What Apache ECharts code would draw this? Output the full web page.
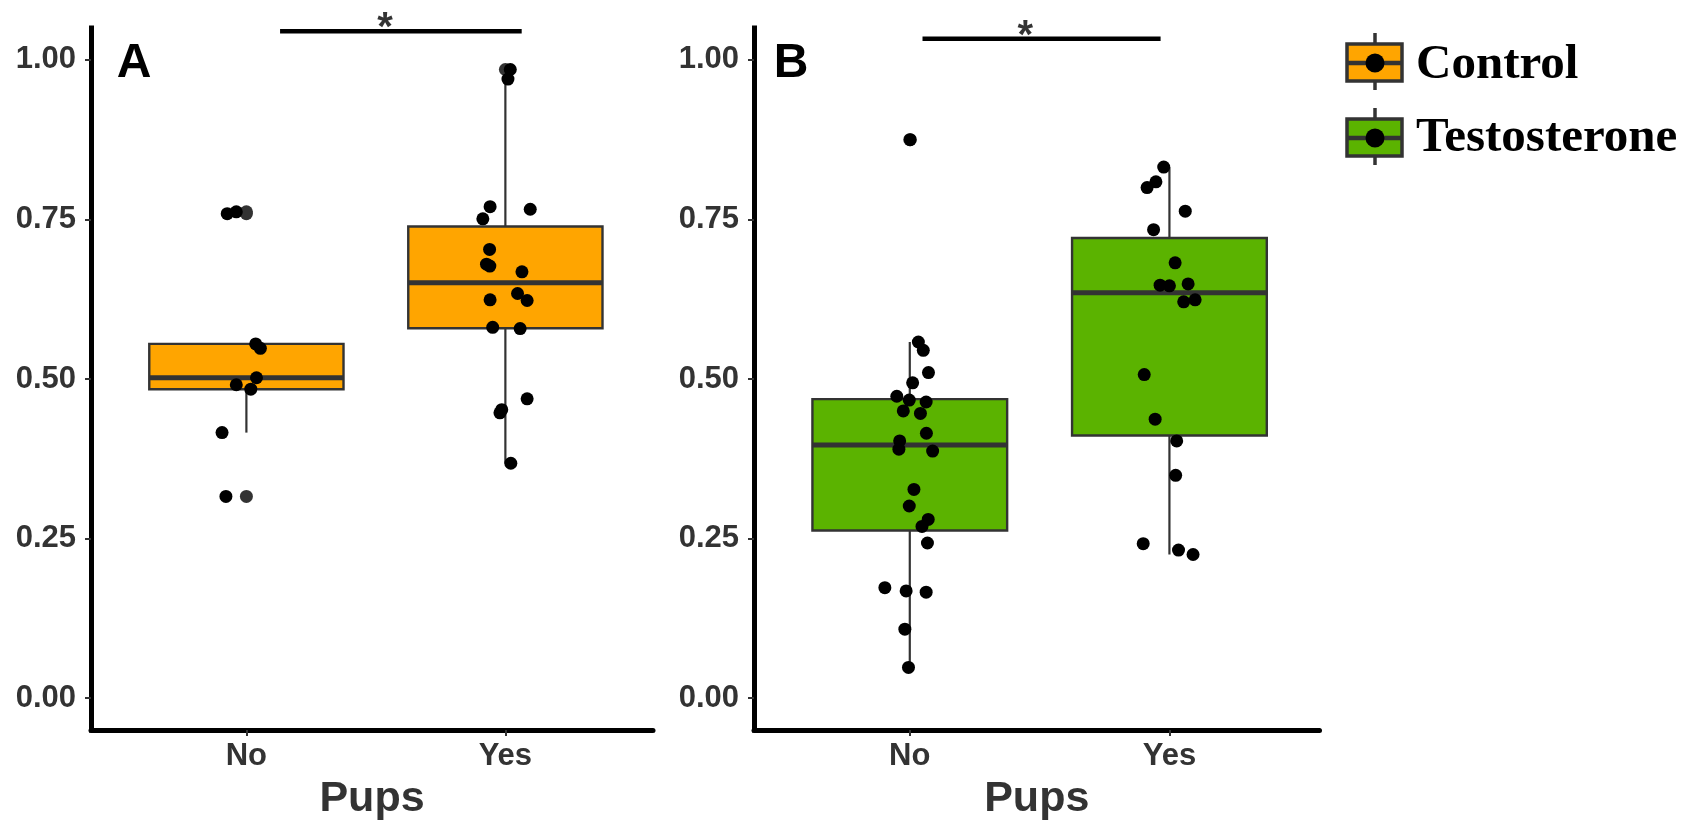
<!DOCTYPE html>
<html>
<head>
<meta charset="utf-8">
<script src="https://cdn.jsdelivr.net/npm/echarts@6/dist/echarts.min.js"></script>
<style>
  html, body { margin: 0; padding: 0; background: #ffffff; }
  #chart { width: 1696px; height: 820px; }
</style>
</head>
<body>
<div id="chart"></div>
<script>
// ---------------- DATA ----------------
const categories = ['No', 'Yes'];
const yTicks = [0, 0.25, 0.5, 0.75, 1];
const xLabel = 'Pups';
const panelLabels = ['A', 'B'];
const groupNames = ['Control', 'Testosterone'];

// Panel A (Control)
const controlNo = [0.759, 0.762, 0.555, 0.548, 0.502, 0.491, 0.484, 0.416, 0.316];
const controlNoJitter = [-0.074, -0.039, 0.036, 0.054, 0.039, -0.039, 0.017, -0.094, -0.079];
const controlYes = [0.985, 0.970, 0.770, 0.766, 0.751, 0.703, 0.680, 0.677, 0.668, 0.634, 0.623, 0.624, 0.581, 0.579, 0.469, 0.452, 0.447, 0.368];
const controlYesJitter = [0.019, 0.010, -0.059, 0.096, -0.087, -0.061, -0.073, -0.060, 0.064, 0.047, 0.084, -0.059, -0.049, 0.057, 0.084, -0.014, -0.021, 0.021];

// Panel B (Testosterone)
const testoNo = [0.875, 0.558, 0.545, 0.510, 0.494, 0.473, 0.467, 0.464, 0.450, 0.446, 0.415, 0.403, 0.390, 0.387, 0.327, 0.301, 0.280, 0.269, 0.243, 0.173, 0.168, 0.166, 0.108, 0.048];
const testoNoJitter = [0.002, 0.033, 0.052, 0.072, 0.011, -0.050, -0.002, 0.063, -0.025, 0.041, 0.064, -0.039, -0.042, 0.088, 0.016, -0.002, 0.071, 0.047, 0.068, -0.096, -0.014, 0.063, -0.019, -0.005];
const testoYes = [0.832, 0.809, 0.800, 0.763, 0.734, 0.682, 0.647, 0.646, 0.649, 0.621, 0.624, 0.507, 0.437, 0.403, 0.349, 0.242, 0.232, 0.225];
const testoYesJitter = [-0.022, -0.052, -0.086, 0.061, -0.061, 0.022, -0.036, 0.000, 0.072, 0.055, 0.099, -0.097, -0.055, 0.028, 0.024, -0.101, 0.035, 0.091];

// significance annotations (data units)
const sigBarA = [[0.13, 1.045], [1.063, 1.045]];
const sigBarB = [[0.049, 1.033], [0.966, 1.033]];
const sigStarA = [0.535, 1.045];
const sigStarB = [0.445, 1.033];
const sigText = '*';

// ---------------- STYLE ----------------
const ORANGE = '#FFA500';
const GREEN = '#5BB300';
const OUTLINE = '#333333';
const AXIS_TEXT = '#333333';
const SANS = "'Liberation Sans', Arial, Helvetica, sans-serif";
const SERIF = "'Liberation Serif', 'Times New Roman', serif";
const BOX_HALF = 0.375;

// type-7 quantile
function quantile(sorted, p) {
  const h = (sorted.length - 1) * p;
  const lo = Math.floor(h), hi = Math.ceil(h);
  return sorted[lo] + (h - lo) * (sorted[hi] - sorted[lo]);
}
function boxStats(vals) {
  const s = vals.slice().sort((a, b) => a - b);
  const q1 = quantile(s, 0.25), med = quantile(s, 0.5), q3 = quantile(s, 0.75);
  const iqr = q3 - q1;
  const lf = q1 - 1.5 * iqr, uf = q3 + 1.5 * iqr;
  const inside = s.filter(v => v >= lf && v <= uf);
  return {
    box: [inside[0], q1, med, q3, inside[inside.length - 1]],
    outliers: s.filter(v => v < lf || v > uf)
  };
}

function makeBoxRender(fill) {
  return function (params, api) {
    const x = api.value(0);
    const lo = api.value(1), q1 = api.value(2), med = api.value(3), q3 = api.value(4), hi = api.value(5);
    const pTL = api.coord([x - BOX_HALF, q3]);
    const pBR = api.coord([x + BOX_HALF, q1]);
    const pML = api.coord([x - BOX_HALF, med]);
    const pMR = api.coord([x + BOX_HALF, med]);
    const pLo = api.coord([x, lo]), pQ1 = api.coord([x, q1]);
    const pQ3 = api.coord([x, q3]), pHi = api.coord([x, hi]);
    const ls = { stroke: OUTLINE, lineWidth: 2.2 };
    return {
      type: 'group',
      children: [
        { type: 'line', shape: { x1: pHi[0], y1: pHi[1], x2: pQ3[0], y2: pQ3[1] }, style: ls },
        { type: 'line', shape: { x1: pQ1[0], y1: pQ1[1], x2: pLo[0], y2: pLo[1] }, style: ls },
        { type: 'rect', shape: { x: pTL[0], y: pTL[1], width: pBR[0] - pTL[0], height: pBR[1] - pTL[1] },
          style: { fill: fill, stroke: OUTLINE, lineWidth: 2.4 } },
        { type: 'line', shape: { x1: pML[0], y1: pML[1], x2: pMR[0], y2: pMR[1] },
          style: { stroke: OUTLINE, lineWidth: 5 } }
      ]
    };
  };
}

function panelSeries(idx, noVals, noJit, yesVals, yesJit, fill, sigBar, sigStar) {
  const sNo = boxStats(noVals), sYes = boxStats(yesVals);
  const boxData = [[0].concat(sNo.box), [1].concat(sYes.box)];
  const outData = sNo.outliers.map(v => [0, v]).concat(sYes.outliers.map(v => [1, v]));
  const ptData = noVals.map((v, i) => [0 + noJit[i], v]).concat(yesVals.map((v, i) => [1 + yesJit[i], v]));
  return [
    { type: 'custom', xAxisIndex: idx, yAxisIndex: idx, renderItem: makeBoxRender(fill),
      encode: { x: 0, y: [1, 2, 3, 4, 5] }, data: boxData, z: 2, silent: true },
    { type: 'scatter', xAxisIndex: idx, yAxisIndex: idx, data: outData, symbolSize: 13,
      itemStyle: { color: OUTLINE, opacity: 1 }, z: 3, silent: true },
    { type: 'scatter', xAxisIndex: idx, yAxisIndex: idx, data: ptData, symbolSize: 13,
      itemStyle: { color: '#000000', opacity: 1 }, z: 4, silent: true },
    { type: 'line', xAxisIndex: idx, yAxisIndex: idx, data: sigBar, symbol: 'none', clip: false,
      lineStyle: { color: '#000000', width: 4.5 }, z: 5, silent: true },
    { type: 'scatter', xAxisIndex: idx, yAxisIndex: idx, data: [sigStar], symbolSize: 1, clip: false,
      itemStyle: { color: 'rgba(0,0,0,0)' }, z: 5, silent: true,
      label: { show: true, position: 'inside', formatter: sigText, color: '#000', fontSize: 40,
        fontWeight: 'bold', fontFamily: SANS, offset: [0, -2] } }
  ];
}

function xAxisDef(gridIndex, min, max) {
  return {
    type: 'value', gridIndex: gridIndex, min: min, max: max,
    splitLine: { show: false },
    axisLine: { show: true, onZero: false, lineStyle: { color: '#000', width: 5 } },
    axisTick: { show: true, customValues: [0, 1], length: 6, lineStyle: { color: OUTLINE, width: 2 } },
    axisLabel: { show: true, customValues: [0, 1], formatter: v => categories[Math.round(v)],
      color: AXIS_TEXT, fontSize: 31, fontWeight: 'bold', fontFamily: SANS, margin: 11 },
    name: xLabel, nameLocation: 'middle', nameGap: 48,
    nameTextStyle: { color: AXIS_TEXT, fontSize: 43, fontWeight: 'bold', fontFamily: SANS }
  };
}
function yAxisDef(gridIndex) {
  return {
    type: 'value', gridIndex: gridIndex, min: -0.05, max: 1.05,
    splitLine: { show: false },
    axisLine: { show: true, onZero: false, lineStyle: { color: '#000', width: 5, cap: 'square' } },
    axisTick: { show: true, customValues: yTicks, length: 6, lineStyle: { color: OUTLINE, width: 2 } },
    axisLabel: { show: true, customValues: yTicks, formatter: v => v.toFixed(2),
      color: AXIS_TEXT, fontSize: 31, fontWeight: 'bold', fontFamily: SANS, margin: 15 }
  };
}

function legendItem(y0, fill, label, dy) {
  // y0 = centre line of the key
  return [
    { type: 'line', shape: { x1: 1375, y1: y0 - 30, x2: 1375, y2: y0 + 27 }, style: { stroke: OUTLINE, lineWidth: 3.5 } },
    { type: 'rect', shape: { x: 1347, y: y0 - 19, width: 55, height: 37 }, style: { fill: fill, stroke: OUTLINE, lineWidth: 3.5 } },
    { type: 'line', shape: { x1: 1347, y1: y0, x2: 1402, y2: y0 }, style: { stroke: OUTLINE, lineWidth: 4.5 } },
    { type: 'circle', shape: { cx: 1375, cy: y0, r: 9.5 }, style: { fill: '#000' } },
    { type: 'text', x: 1416, y: y0 + dy, style: { text: label, fill: '#000', font: 'bold 49px ' + SERIF,
      textAlign: 'left', textVerticalAlign: 'middle' } }
  ];
}

const chart = echarts.init(document.getElementById('chart'), null, { renderer: 'canvas' });
chart.setOption({
  animation: false,
  backgroundColor: '#ffffff',
  grid: [
    { left: 91, top: 28, width: 562, height: 702, containLabel: false, outerBoundsMode: 'none' },
    { left: 754, top: 28, width: 565.5, height: 702, containLabel: false, outerBoundsMode: 'none' }
  ],
  xAxis: [xAxisDef(0, -0.6, 1.57), xAxisDef(1, -0.6, 1.578)],
  yAxis: [yAxisDef(0), yAxisDef(1)],
  series: [].concat(
    panelSeries(0, controlNo, controlNoJitter, controlYes, controlYesJitter, ORANGE, sigBarA, sigStarA),
    panelSeries(1, testoNo, testoNoJitter, testoYes, testoYesJitter, GREEN, sigBarB, sigStarB)
  ),
  graphic: [
    { type: 'text', x: 134, y: 64, style: { text: panelLabels[0], fill: '#000', font: 'bold 48px ' + SANS, textAlign: 'center', textVerticalAlign: 'middle' } },
    { type: 'text', x: 791, y: 64, style: { text: panelLabels[1], fill: '#000', font: 'bold 48px ' + SANS, textAlign: 'center', textVerticalAlign: 'middle' } }
  ].concat(legendItem(63, ORANGE, groupNames[0], 2), legendItem(138, GREEN, groupNames[1], 0))
});
</script>
</body>
</html>
